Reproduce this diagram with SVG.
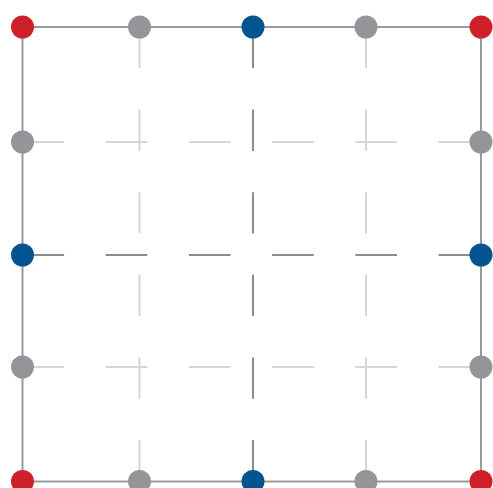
<svg xmlns="http://www.w3.org/2000/svg" width="493" height="488" viewBox="0 0 493 488">
<style>
.border{fill:none;stroke:#9a9a9b;stroke-width:2}
.dark{stroke:#8c8c8e;stroke-width:2;fill:none}
.light{stroke:#d6d6d6;stroke-width:2;fill:none}
.h{stroke-dasharray:41.6 41.6}
.v{stroke-dasharray:41.3 41.3}
.red{fill:#cf2029}
.blue{fill:#04558f}
.gray{fill:#939598}
</style>
<rect width="493" height="488" fill="#fff"/>
<g id="connectors">
<line class="light v" x1="139.5" y1="27" x2="139.5" y2="481.5"/>
<line class="light v" x1="366" y1="27" x2="366" y2="481.5"/>
<line class="light h" x1="22.5" y1="142" x2="481" y2="142"/>
<line class="light h" x1="22.5" y1="367" x2="481" y2="367"/>
<line class="dark v" x1="253" y1="27" x2="253" y2="481.5"/>
<line class="dark h" x1="22.5" y1="255" x2="481" y2="255"/>
<rect class="border" x="22.5" y="27" width="458.5" height="454.5"/>
</g>
<g id="n-tl"><circle class="red" cx="22.5" cy="27" r="11.5"/></g>
<g id="n-t1"><circle class="gray" cx="139.5" cy="27" r="11.5"/></g>
<g id="n-t2"><circle class="blue" cx="253" cy="27" r="11.5"/></g>
<g id="n-t3"><circle class="gray" cx="366" cy="27" r="11.5"/></g>
<g id="n-tr"><circle class="red" cx="481" cy="27" r="11.5"/></g>
<g id="n-l1"><circle class="gray" cx="22.5" cy="142" r="11.5"/></g>
<g id="n-l2"><circle class="blue" cx="22.5" cy="255" r="11.5"/></g>
<g id="n-l3"><circle class="gray" cx="22.5" cy="367" r="11.5"/></g>
<g id="n-r1"><circle class="gray" cx="481" cy="142" r="11.5"/></g>
<g id="n-r2"><circle class="blue" cx="481" cy="255" r="11.5"/></g>
<g id="n-r3"><circle class="gray" cx="481" cy="367" r="11.5"/></g>
<g id="n-bl"><circle class="red" cx="22.5" cy="481.5" r="11.5"/></g>
<g id="n-b1"><circle class="gray" cx="139.5" cy="481.5" r="11.5"/></g>
<g id="n-b2"><circle class="blue" cx="253" cy="481.5" r="11.5"/></g>
<g id="n-b3"><circle class="gray" cx="366" cy="481.5" r="11.5"/></g>
<g id="n-br"><circle class="red" cx="481" cy="481.5" r="11.5"/></g>
</svg>
